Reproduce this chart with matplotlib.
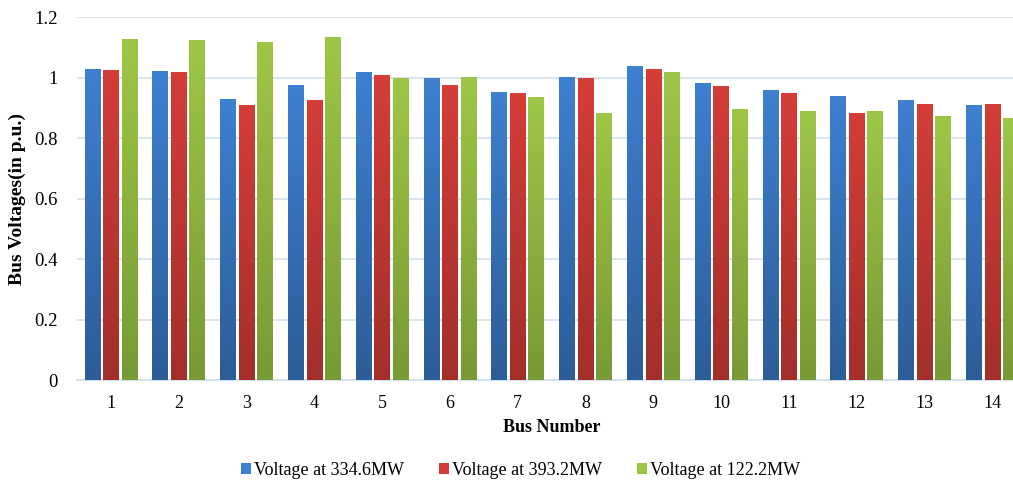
import numpy as np
import matplotlib
matplotlib.use("Agg")
import matplotlib.pyplot as plt
from matplotlib.colors import LinearSegmentedColormap
from matplotlib.patches import Patch

# ---------------------------------------------------------------------------
# Data
# ---------------------------------------------------------------------------
buses = list(range(1, 15))
v_334 = [1.027, 1.020, 0.928, 0.975, 1.017, 0.997, 0.951, 1.000, 1.037, 0.981, 0.956, 0.937, 0.926, 0.909]
v_393 = [1.025, 1.017, 0.909, 0.926, 1.006, 0.975, 0.948, 0.996, 1.027, 0.971, 0.948, 0.881, 0.911, 0.911]
v_122 = [1.127, 1.124, 1.116, 1.134, 0.996, 0.999, 0.934, 0.881, 1.018, 0.895, 0.887, 0.889, 0.873, 0.864]
labels = ["Voltage at 334.6MW", "Voltage at 393.2MW", "Voltage at 122.2MW"]
yticks = [0, 0.2, 0.4, 0.6, 0.8, 1, 1.2]
ytick_labels = ["0", "0.2", "0.4", "0.6", "0.8", "1", "1.2"]

# (top colour, bottom colour) for the Excel-like gradient fill
colors = [("#3d80d0", "#2c5d98"), ("#d43d38", "#a32f2b"), ("#9ec646", "#789a35")]

plt.rcParams["font.family"] = ["Liberation Serif", "DejaVu Serif"]

fig = plt.figure(figsize=(10.13, 4.93), dpi=100)
ax = fig.add_axes([0.076, 0.229, 0.937, 0.736])

x = np.arange(len(buses))
step = 0.273
width = 0.229
series = [v_334, v_393, v_122]

for i, vals in enumerate(series):
    cmap = LinearSegmentedColormap.from_list(f"g{i}", [colors[i][1], colors[i][0]])
    grad = np.linspace(0, 1, 64).reshape(-1, 1)
    for xi, v in zip(x, vals):
        x0 = xi + (i - 1) * step - width / 2
        ax.imshow(grad, cmap=cmap, origin="lower", aspect="auto",
                  extent=(x0, x0 + width, 0, v), zorder=3, interpolation="bilinear")

ax.set_xlim(-0.5, len(buses) - 0.5)
ax.set_ylim(0, 1.2)
ax.set_xticks(x)
ax.set_xticklabels([str(b) for b in buses])
ax.set_yticks(yticks)
ax.set_yticklabels(ytick_labels)
ax.tick_params(axis="both", length=0)
ax.tick_params(axis="x", pad=11, labelsize=13)
ax.tick_params(axis="y", pad=14, labelsize=13.5)

ax.grid(True, axis="y", color="#d3e0ee", linewidth=1.2, zorder=0)
ax.set_axisbelow(True)
for s in ["top", "right", "left"]:
    ax.spines[s].set_visible(False)
ax.spines["bottom"].set_color("#d3e0ee")
ax.spines["bottom"].set_linewidth(1.5)

ax.set_xlabel("Bus Number", fontsize=13, fontweight="bold", labelpad=5)
ax.set_ylabel("Bus Voltages(in p.u.)", fontsize=14, fontweight="bold", labelpad=6)

handles = [Patch(facecolor=colors[i][0]) for i in range(3)]
fig.legend(handles, labels, loc="lower center", bbox_to_anchor=(0.514, -0.005), ncol=3,
           frameon=False, fontsize=13, handlelength=0.55, handleheight=0.55,
           handletextpad=0.15, columnspacing=1.95)

fig.savefig("out.png", dpi=100)
